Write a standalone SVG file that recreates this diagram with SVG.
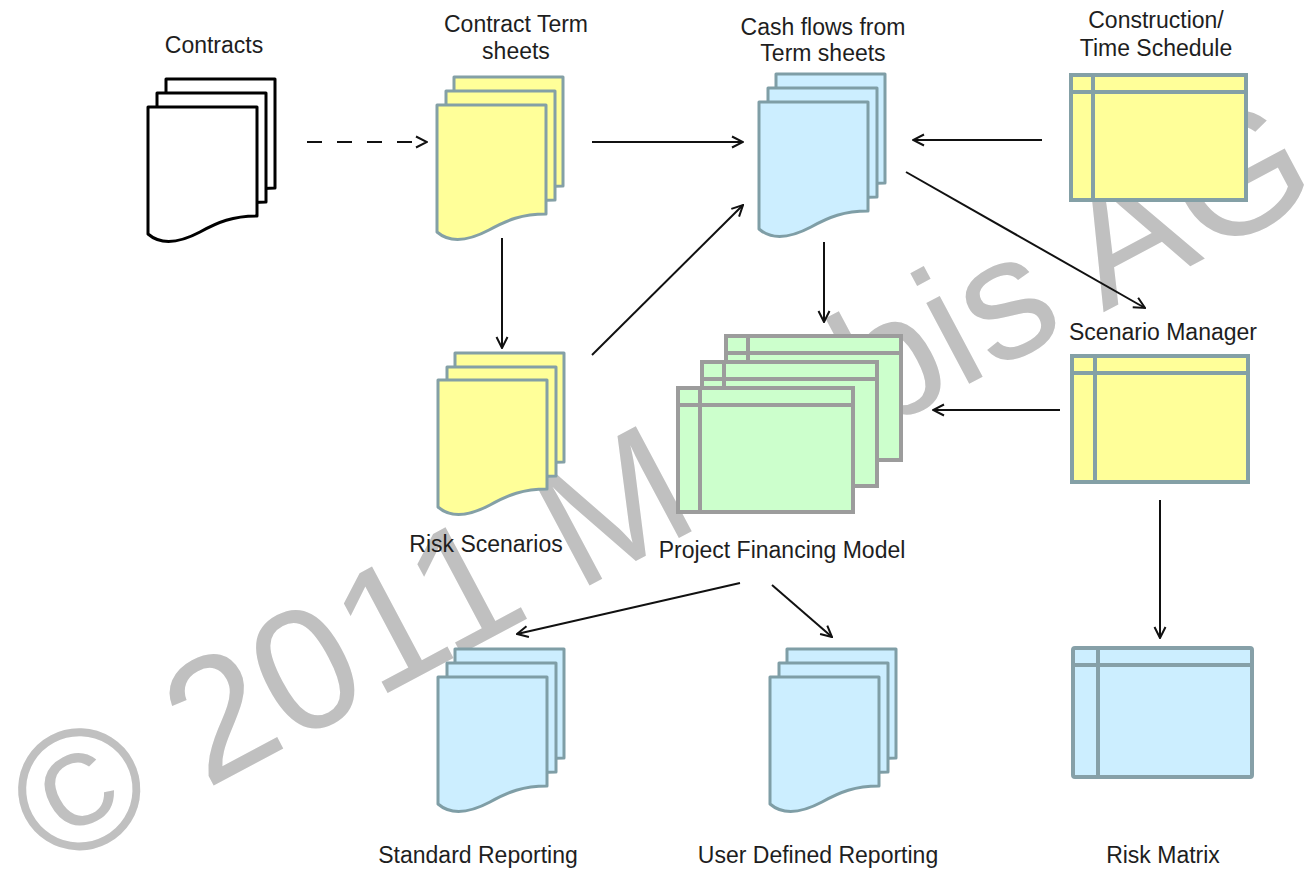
<svg xmlns="http://www.w3.org/2000/svg" xmlns:xlink="http://www.w3.org/1999/xlink" width="1310" height="872" viewBox="0 0 1310 872">
<style>
.lbl{font-family:"Liberation Sans",Arial,sans-serif;font-size:23px;fill:#1e1e1e;text-anchor:middle}
.wm{font-family:"Liberation Sans",Arial,sans-serif;font-size:173px;fill:#c0c0c0}
.blk{fill:#ffffff;stroke:#000000;stroke-width:3;stroke-linejoin:round}
.yel{fill:#ffff99;stroke:#84a0a6;stroke-width:3;stroke-linejoin:round}
.blu{fill:#cceeff;stroke:#7f9ea6;stroke-width:3;stroke-linejoin:round}
.wy{fill:#ffff99;stroke:#84a0a6;stroke-width:4}
.wb{fill:#cceeff;stroke:#86a0a8;stroke-width:4}
.wg{fill:#ccffcc;stroke:#9c9c9c;stroke-width:4}
.wl{fill:none;stroke-width:4}
.con{fill:none;stroke:#111111;stroke-width:2;marker-end:url(#arr)}
</style>
<defs>
<path id="doc" d="M0,0 H109 V109 C85,109 70,115 52,125 C35,134 15,140 0,127 Z"/>
<marker id="arr" markerUnits="userSpaceOnUse" markerWidth="14" markerHeight="14" viewBox="0 0 14 14" refX="13" refY="7" orient="auto">
<path d="M2,1.5 L13,7 L2,12.5" fill="none" stroke="#111111" stroke-width="2"/>
</marker>
</defs>
<rect width="1310" height="872" fill="#ffffff"/>
<text class="wm" transform="translate(51,872) rotate(-28)" x="0" y="0">© 2011 Moebis AG</text>

<g id="contracts">
<use xlink:href="#doc" class="blk" x="166" y="79"/>
<use xlink:href="#doc" class="blk" x="157" y="93"/>
<use xlink:href="#doc" class="blk" x="148" y="107"/>
<text class="lbl" x="214" y="53">Contracts</text>
</g>

<g id="term-sheets">
<use xlink:href="#doc" class="yel" x="454" y="77"/>
<use xlink:href="#doc" class="yel" x="446" y="91"/>
<use xlink:href="#doc" class="yel" x="437" y="105"/>
<text class="lbl" x="516" y="32">Contract Term</text>
<text class="lbl" x="516" y="59">sheets</text>
</g>

<g id="cash-flows">
<use xlink:href="#doc" class="blu" x="776" y="74"/>
<use xlink:href="#doc" class="blu" x="768" y="88"/>
<use xlink:href="#doc" class="blu" x="759" y="102"/>
<text class="lbl" x="823" y="35">Cash flows from</text>
<text class="lbl" x="823" y="61">Term sheets</text>
</g>

<g id="schedule">
<rect class="wy" x="1071" y="75" width="175" height="125"/>
<path class="wl" stroke="#84a0a6" d="M1071,92 H1246 M1093,75 V200"/>
<text class="lbl" x="1156" y="28">Construction/</text>
<text class="lbl" x="1156" y="56">Time Schedule</text>
</g>

<g id="risk-scenarios">
<use xlink:href="#doc" class="yel" x="455" y="353"/>
<use xlink:href="#doc" class="yel" x="447" y="367"/>
<use xlink:href="#doc" class="yel" x="438" y="380"/>
<text class="lbl" x="486" y="552">Risk Scenarios</text>
</g>

<g id="financing-model">
<rect class="wg" x="726" y="336" width="175" height="124"/>
<path class="wl" stroke="#9c9c9c" d="M726,353 H901 M748,336 V460"/>
<rect class="wg" x="702" y="362" width="175" height="124"/>
<path class="wl" stroke="#9c9c9c" d="M702,379 H877 M724,362 V486"/>
<rect class="wg" x="678" y="388" width="175" height="124"/>
<path class="wl" stroke="#9c9c9c" d="M678,405 H853 M700,388 V512"/>
<text class="lbl" x="782" y="558">Project Financing Model</text>
</g>

<g id="scenario-manager">
<rect class="wy" x="1072" y="356" width="176" height="126"/>
<path class="wl" stroke="#84a0a6" d="M1072,373 H1248 M1095,356 V482"/>
<text class="lbl" x="1163" y="340">Scenario Manager</text>
</g>

<g id="standard-reporting">
<use xlink:href="#doc" class="blu" x="455" y="649"/>
<use xlink:href="#doc" class="blu" x="447" y="663"/>
<use xlink:href="#doc" class="blu" x="438" y="677"/>
<text class="lbl" x="478" y="863">Standard Reporting</text>
</g>

<g id="user-reporting">
<use xlink:href="#doc" class="blu" x="787" y="649"/>
<use xlink:href="#doc" class="blu" x="779" y="663"/>
<use xlink:href="#doc" class="blu" x="770" y="677"/>
<text class="lbl" x="818" y="863">User Defined Reporting</text>
</g>

<g id="risk-matrix">
<rect class="wb" x="1073" y="648" width="179" height="129" rx="2"/>
<path class="wl" stroke="#86a0a8" d="M1073,665 H1252 M1098,648 V777"/>
<text class="lbl" x="1163" y="863">Risk Matrix</text>
</g>

<g id="connectors">
<path class="con" d="M307,142 H427" stroke-dasharray="15 15"/>
<path class="con" d="M592,142 H743"/>
<path class="con" d="M1042,140 H913"/>
<path class="con" d="M906,172 L1145,308"/>
<path class="con" d="M502,238 V348"/>
<path class="con" d="M592,355 L743,205"/>
<path class="con" d="M824,242 V322"/>
<path class="con" d="M1060,410 H933"/>
<path class="con" d="M1160,500 V638"/>
<path class="con" d="M740,583 L517,634"/>
<path class="con" d="M772,585 L832,637"/>
</g>
</svg>
